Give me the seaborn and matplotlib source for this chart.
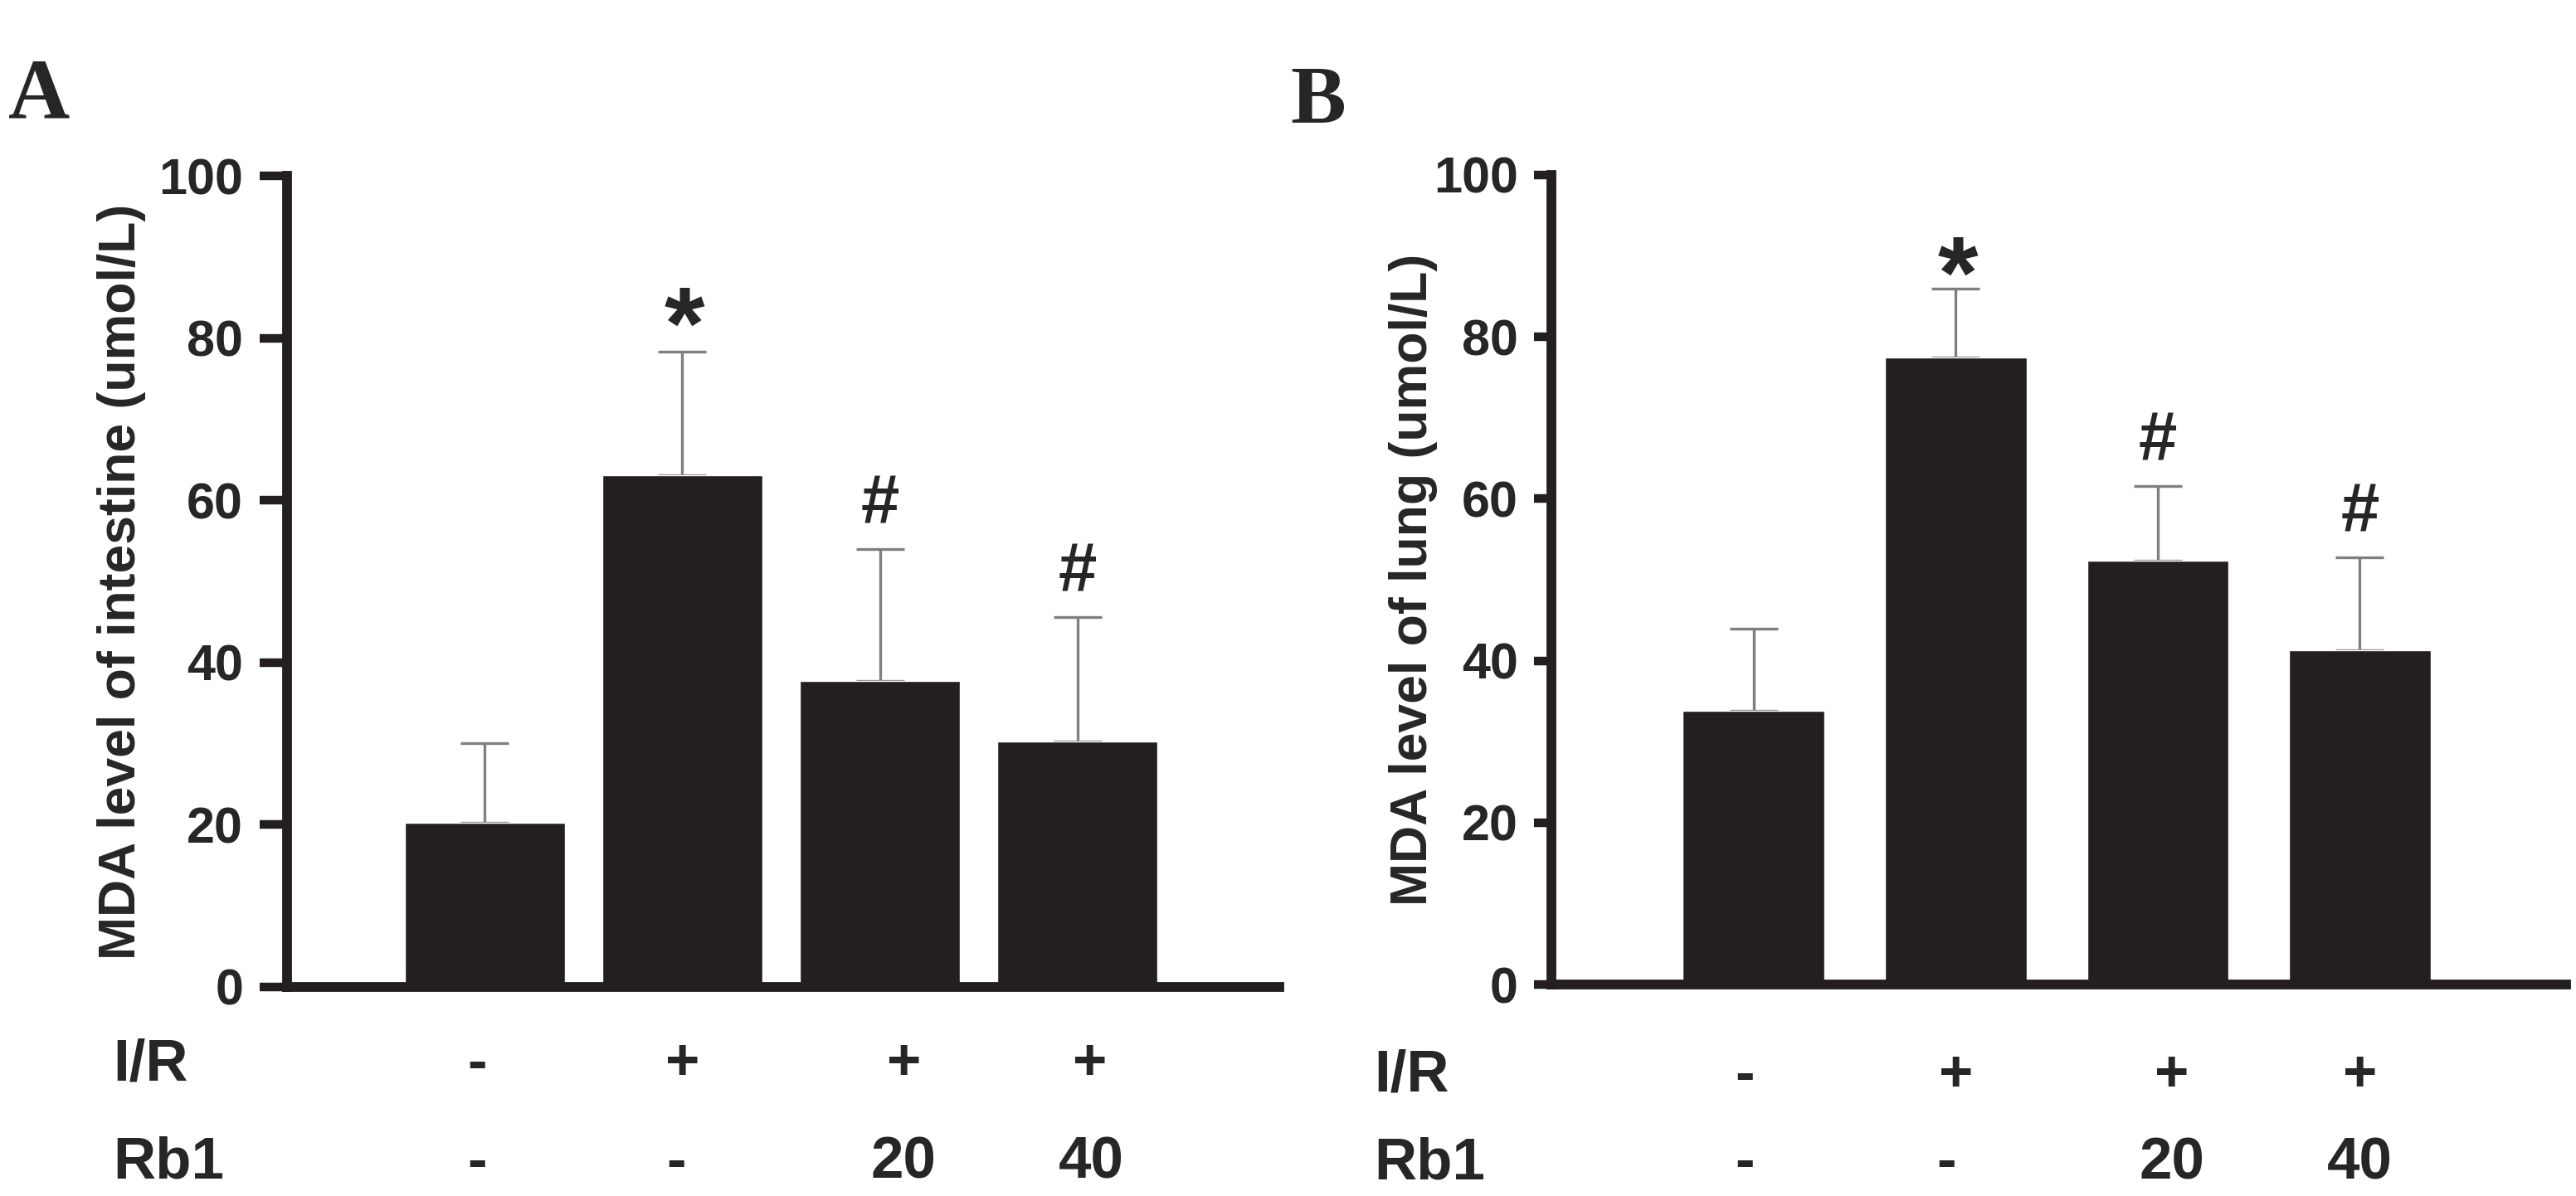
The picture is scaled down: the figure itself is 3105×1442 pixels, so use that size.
import numpy as np
import pandas as pd
import seaborn as sns
import matplotlib.pyplot as plt
from matplotlib import transforms

sns.set_style('ticks')
plt.rcParams['font.family'] = ['Liberation Sans', 'DejaVu Sans']

#%% data

groups = ['Sham', 'I/R', 'I/R+Rb1 20', 'I/R+Rb1 40']
ir_row = ['-', '+', '+', '+']
rb1_row = ['-', '-', '20', '40']

intestine_mda = [20.2, 63.1, 37.7, 30.3]
intestine_sd = [9.9, 15.2, 16.3, 15.3]
lung_mda = [33.8, 77.4, 52.4, 41.3]
lung_sd = [10.1, 8.5, 9.2, 11.5]
sig_marks = ['', '*', '#', '#']

ticks = [0, 20, 40, 60, 80, 100]

#%%


def panel(ax, vals, sds, ylab, bar_w, tick_len, ylab_x, row_y, shifts, star_dy):
    df = pd.DataFrame({'group': groups, 'mda': vals})
    sns.barplot(data=df, x='group', y='mda', color='#231f20', saturation=1,
                width=bar_w, errorbar=None, ax=ax, zorder=2)
    ax.errorbar(np.arange(len(groups)), vals,
                yerr=[np.zeros(len(vals)), sds], fmt='none',
                ecolor='#7f7f7f', elinewidth=2.4, capsize=21, capthick=2.4,
                zorder=1)

    # significance marks above the caps
    for i, m in enumerate(sig_marks):
        if m == '':
            continue
        top = vals[i] + sds[i]
        if m == '*':
            ax.annotate(m, (i, top), xytext=(2, star_dy), textcoords='offset points',
                        ha='center', va='baseline', fontsize=90,
                        fontweight='bold', annotation_clip=False)
        else:
            ax.annotate(m, (i, top), xytext=(0, 22), textcoords='offset points',
                        ha='center', va='baseline', fontsize=60,
                        fontweight='bold', annotation_clip=False)

    ax.set_xlim(-1, 4.02)
    ax.set_ylim(0, 100)
    ax.set_yticks(ticks)
    ax.set_xticks([])
    ax.set_xlabel('')
    ax.set_ylabel(ylab, fontsize=45, fontweight='bold')
    ax.yaxis.set_label_coords(ylab_x, 0.5)
    sns.despine(ax=ax)
    for s in ['left', 'bottom']:
        ax.spines[s].set_linewidth(8.5)
        ax.spines[s].set_color('#231f20')
    ax.tick_params(axis='y', length=tick_len, width=7.5, pad=14,
                   labelsize=44, color='#231f20')
    for t in ax.get_yticklabels():
        t.set_fontweight('bold')

    # treatment rows under the axis
    tr = transforms.blended_transform_factory(ax.transData, ax.transAxes)
    ax.text(-1.88, row_y[0], 'I/R', transform=tr, ha='left', va='baseline',
            fontsize=51, fontweight='bold')
    ax.text(-1.88, row_y[1], 'Rb1', transform=tr, ha='left', va='baseline',
            fontsize=51, fontweight='bold')
    for i in range(len(groups)):
        ax.text(i + shifts[0][i], row_y[0], ir_row[i], transform=tr,
                ha='center', va='baseline', fontsize=51, fontweight='bold')
        ax.text(i + shifts[1][i], row_y[1], rb1_row[i], transform=tr,
                ha='center', va='baseline', fontsize=51, fontweight='bold')


fig = plt.figure(figsize=(31.05, 14.42), dpi=100)
axA = fig.add_axes([0.1114, 0.1748, 0.3852, 0.678])
axB = fig.add_axes([0.6023, 0.1768, 0.3938, 0.677])

panel(axA, intestine_mda, intestine_sd, 'MDA level of intestine (umol/L)',
      0.81, 24, -0.142, (-0.115, -0.236),
      ([-0.04, 0.0, 0.12, 0.06], [-0.04, -0.03, 0.12, 0.07]), -6)
panel(axB, lung_mda, lung_sd, 'MDA level of lung (umol/L)',
      0.70, 15, -0.112, (-0.132, -0.240),
      ([-0.045, 0.0, 0.07, 0.0], [-0.045, -0.045, 0.07, 0.0]), -17)

fig.text(10 / 3105, 1 - 143 / 1442, 'A', fontsize=74, fontweight='bold',
         family=['Liberation Serif', 'DejaVu Serif'], va='baseline')
fig.text(1555 / 3105, 1 - 147 / 1442, 'B', fontsize=72, fontweight='bold',
         family=['Liberation Serif', 'DejaVu Serif'], va='baseline')

fig.savefig('out.png', dpi=100)
